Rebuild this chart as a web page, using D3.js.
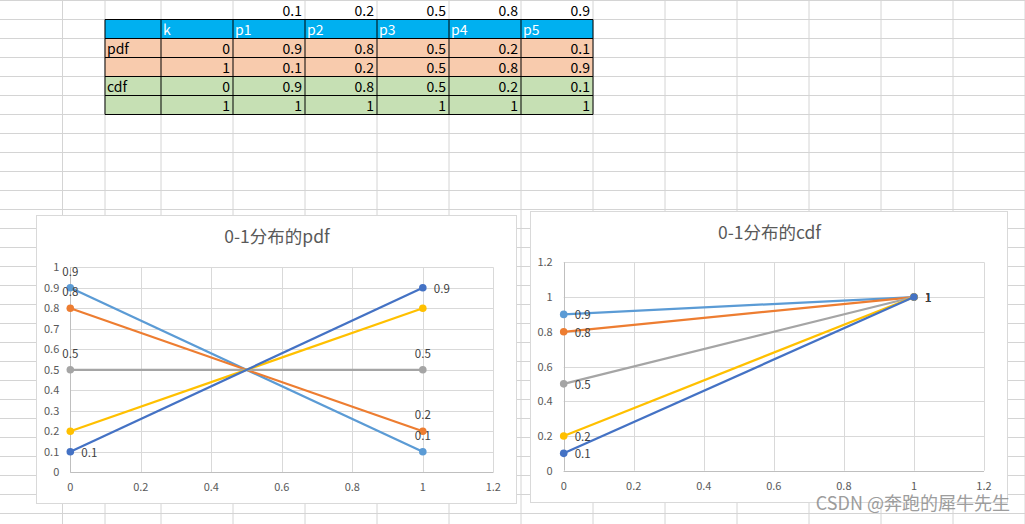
<!DOCTYPE html>
<html>
<head>
    <meta charset="utf-8">
    <script src="https://d3js.org/d3.v7.min.js" charset="utf-8"></script>
    <style>
        body { margin: 0; background: white; }
        text { font-family: "Noto Sans CJK SC", "Noto Sans", sans-serif; }
    </style>
</head>
<body>
   <script>
        // data
        var kValues = [0, 1];
        var seriesNames = ["p1", "p2", "p3", "p4", "p5"];
        var probs = [0.1, 0.2, 0.5, 0.8, 0.9];
        var pdfValues = [
            [0.9, 0.1],
            [0.8, 0.2],
            [0.5, 0.5],
            [0.2, 0.8],
            [0.1, 0.9]
        ];
        var cdfValues = [
            [0.9, 1],
            [0.8, 1],
            [0.5, 1],
            [0.2, 1],
            [0.1, 1]
        ];
        var pdfTicksY = [0, 0.1, 0.2, 0.3, 0.4, 0.5, 0.6, 0.7, 0.8, 0.9, 1];
        var cdfTicksY = [0, 0.2, 0.4, 0.6, 0.8, 1, 1.2];
        var ticksX = [0, 0.2, 0.4, 0.6, 0.8, 1, 1.2];
        var pdfLabelPos = ["top", "top", "top", null, "right"];
        var cdfLabelPos = ["right", "right", "right", "right", "right"];

        var colors = ["#5B9BD5", "#ED7D31", "#A5A5A5", "#FFC000", "#4472C4"];
        var gridColor = "#d4d4d4";

        var svg = d3.select("body")
            .append("svg")
            .attr("width", 1025)
            .attr("height", 524)
            .style("display", "block")
            .style("background", "white");

        // spreadsheet grid
        var colEdges = [62.5, 105, 161, 233, 305, 377, 449, 521, 593, 665, 737, 809, 881, 953, 1025];
        var sheet = svg.append("g");
        colEdges.forEach(function (x) {
            sheet.append("line")
                .attr("x1", x).attr("x2", x).attr("y1", 0).attr("y2", 524)
                .style("stroke", gridColor);
        });
        for (var y = 0.5; y < 524; y += 19) {
            sheet.append("line")
                .attr("x1", 0).attr("x2", 1025).attr("y1", y).attr("y2", y)
                .style("stroke", gridColor);
        }

        // table
        var rowH = 19, rowTop = 0.5;
        var tableCols = colEdges.slice(1, 9); // 105 .. 593
        function cellText(row, col, txt, align, color) {
            var x0 = tableCols[col], x1 = tableCols[col + 1];
            sheet.append("text")
                .attr("x", align === "right" ? x1 - 3 : x0 + 2)
                .attr("y", rowTop + row * rowH + 15)
                .attr("text-anchor", align === "right" ? "end" : "start")
                .style("font-size", "14px")
                .style("fill", color || "#000")
                .text(txt);
        }
        var tableRows = [
            { label: "pdf", k: 0, vals: pdfValues.map(function (s) { return s[0]; }), bg: "#F8CBAD" },
            { label: "", k: 1, vals: pdfValues.map(function (s) { return s[1]; }), bg: "#F8CBAD" },
            { label: "cdf", k: 0, vals: cdfValues.map(function (s) { return s[0]; }), bg: "#C6E0B4" },
            { label: "", k: 1, vals: cdfValues.map(function (s) { return s[1]; }), bg: "#C6E0B4" }
        ];
        sheet.append("rect")
            .attr("x", tableCols[0]).attr("y", rowTop + rowH)
            .attr("width", tableCols[7] - tableCols[0]).attr("height", rowH)
            .style("fill", "#00B0F0");
        tableRows.forEach(function (r, i) {
            sheet.append("rect")
                .attr("x", tableCols[0]).attr("y", rowTop + (i + 2) * rowH)
                .attr("width", tableCols[7] - tableCols[0]).attr("height", rowH)
                .style("fill", r.bg);
        });
        probs.forEach(function (p, j) { cellText(0, j + 2, p, "right"); });
        cellText(1, 1, "k", "left", "white");
        seriesNames.forEach(function (n, j) { cellText(1, j + 2, n, "left", "white"); });
        tableRows.forEach(function (r, i) {
            if (r.label) cellText(i + 2, 0, r.label, "left");
            cellText(i + 2, 1, r.k, "right");
            r.vals.forEach(function (v, j) { cellText(i + 2, j + 2, v, "right"); });
        });
        for (var i = 1; i <= 6; i++) {
            sheet.append("line")
                .attr("x1", tableCols[0]).attr("x2", tableCols[7])
                .attr("y1", rowTop + i * rowH).attr("y2", rowTop + i * rowH)
                .style("stroke", "black");
        }
        tableCols.forEach(function (x) {
            sheet.append("line")
                .attr("x1", x).attr("x2", x)
                .attr("y1", rowTop + rowH).attr("y2", rowTop + 6 * rowH)
                .style("stroke", "black");
        });

        // charts
        function drawChart(opt) {
            var g = svg.append("g");
            g.append("rect")
                .attr("x", opt.box[0] + 0.5).attr("y", opt.box[1] + 0.5)
                .attr("width", opt.box[2] - opt.box[0]).attr("height", opt.box[3] - opt.box[1])
                .style("fill", "white").style("stroke", "#d9d9d9");
            g.append("text")
                .attr("x", (opt.box[0] + opt.box[2]) / 2 + 1)
                .attr("y", opt.titleY)
                .attr("text-anchor", "middle")
                .style("font-size", "17.5px")
                .style("fill", "#595959")
                .text(opt.title);

            var x = d3.scaleLinear().domain([0, 1.2]).range(opt.xr);
            var y = d3.scaleLinear().domain(opt.yDomain).range(opt.yr);

            g.append("g")
                .selectAll("line.h").data(opt.yTicks).enter().append("line")
                .attr("x1", opt.xr[0]).attr("x2", opt.xr[1])
                .attr("y1", function (d) { return Math.round(y(d)) + 0.5; })
                .attr("y2", function (d) { return Math.round(y(d)) + 0.5; })
                .style("stroke", "#d9d9d9");
            g.append("g")
                .selectAll("line.v").data(ticksX).enter().append("line")
                .attr("x1", function (d) { return Math.round(x(d)) + 0.5; })
                .attr("x2", function (d) { return Math.round(x(d)) + 0.5; })
                .attr("y1", opt.yr[0]).attr("y2", opt.yr[1])
                .style("stroke", function (d) { return d === 0 ? "#bfbfbf" : "#d9d9d9"; });
            g.append("line")
                .attr("x1", opt.xr[0]).attr("x2", opt.xr[1])
                .attr("y1", Math.round(opt.yr[0]) + 0.5).attr("y2", Math.round(opt.yr[0]) + 0.5)
                .style("stroke", "#bfbfbf");

            g.append("g")
                .selectAll("text").data(opt.yTicks).enter().append("text")
                .attr("x", opt.xr[0] - 11)
                .attr("y", function (d) { return y(d) + 4; })
                .attr("text-anchor", "end")
                .style("font-size", "11px")
                .style("fill", "#595959")
                .text(function (d) { return d; });
            g.append("g")
                .selectAll("text").data(ticksX).enter().append("text")
                .attr("x", function (d) { return x(d); })
                .attr("y", opt.yr[0] + 19)
                .attr("text-anchor", "middle")
                .style("font-size", "11px")
                .style("fill", "#595959")
                .text(function (d) { return d; });

            var line = d3.line()
                .x(function (d, j) { return x(kValues[j]); })
                .y(function (d) { return y(d); });
            opt.values.forEach(function (vals, i) {
                g.append("path")
                    .attr("d", line(vals))
                    .style("fill", "none")
                    .style("stroke", colors[i])
                    .style("stroke-width", 2.25);
                g.selectAll(null).data(vals).enter().append("circle")
                    .attr("cx", function (d, j) { return x(kValues[j]); })
                    .attr("cy", function (d) { return y(d); })
                    .attr("r", 3.8)
                    .style("fill", colors[i]);
            });
            opt.values.forEach(function (vals, i) {
                var pos = opt.labelPos[i];
                if (!pos) return;
                g.selectAll(null).data(vals).enter().append("text")
                    .attr("x", function (d, j) { return x(kValues[j]) + (pos === "right" ? 11 : 0); })
                    .attr("y", function (d) { return y(d) + (pos === "right" ? 5 : -12); })
                    .attr("text-anchor", pos === "right" ? "start" : "middle")
                    .style("font-size", "11.5px")
                    .style("fill", "#404040")
                    .text(function (d) { return d; });
            });
        }

        drawChart({
            box: [36, 215, 516, 503],
            title: "0-1分布的pdf",
            titleY: 243,
            xr: [70.3, 493.3],
            yr: [472.3, 267.3],
            yDomain: [0, 1],
            yTicks: pdfTicksY,
            values: pdfValues,
            labelPos: pdfLabelPos
        });
        drawChart({
            box: [530, 211, 1007, 502],
            title: "0-1分布的cdf",
            titleY: 239,
            xr: [563.7, 984],
            yr: [470.7, 262.3],
            yDomain: [0, 1.2],
            yTicks: cdfTicksY,
            values: cdfValues,
            labelPos: cdfLabelPos
        });

        // watermark
        svg.append("text")
            .attr("x", 1010)
            .attr("y", 510)
            .attr("text-anchor", "end")
            .style("font-size", "18px")
            .style("fill", "#8c8c8c")
            .style("opacity", 0.85)
            .text("CSDN @奔跑的犀牛先生");
    </script>
</body>
</html>
